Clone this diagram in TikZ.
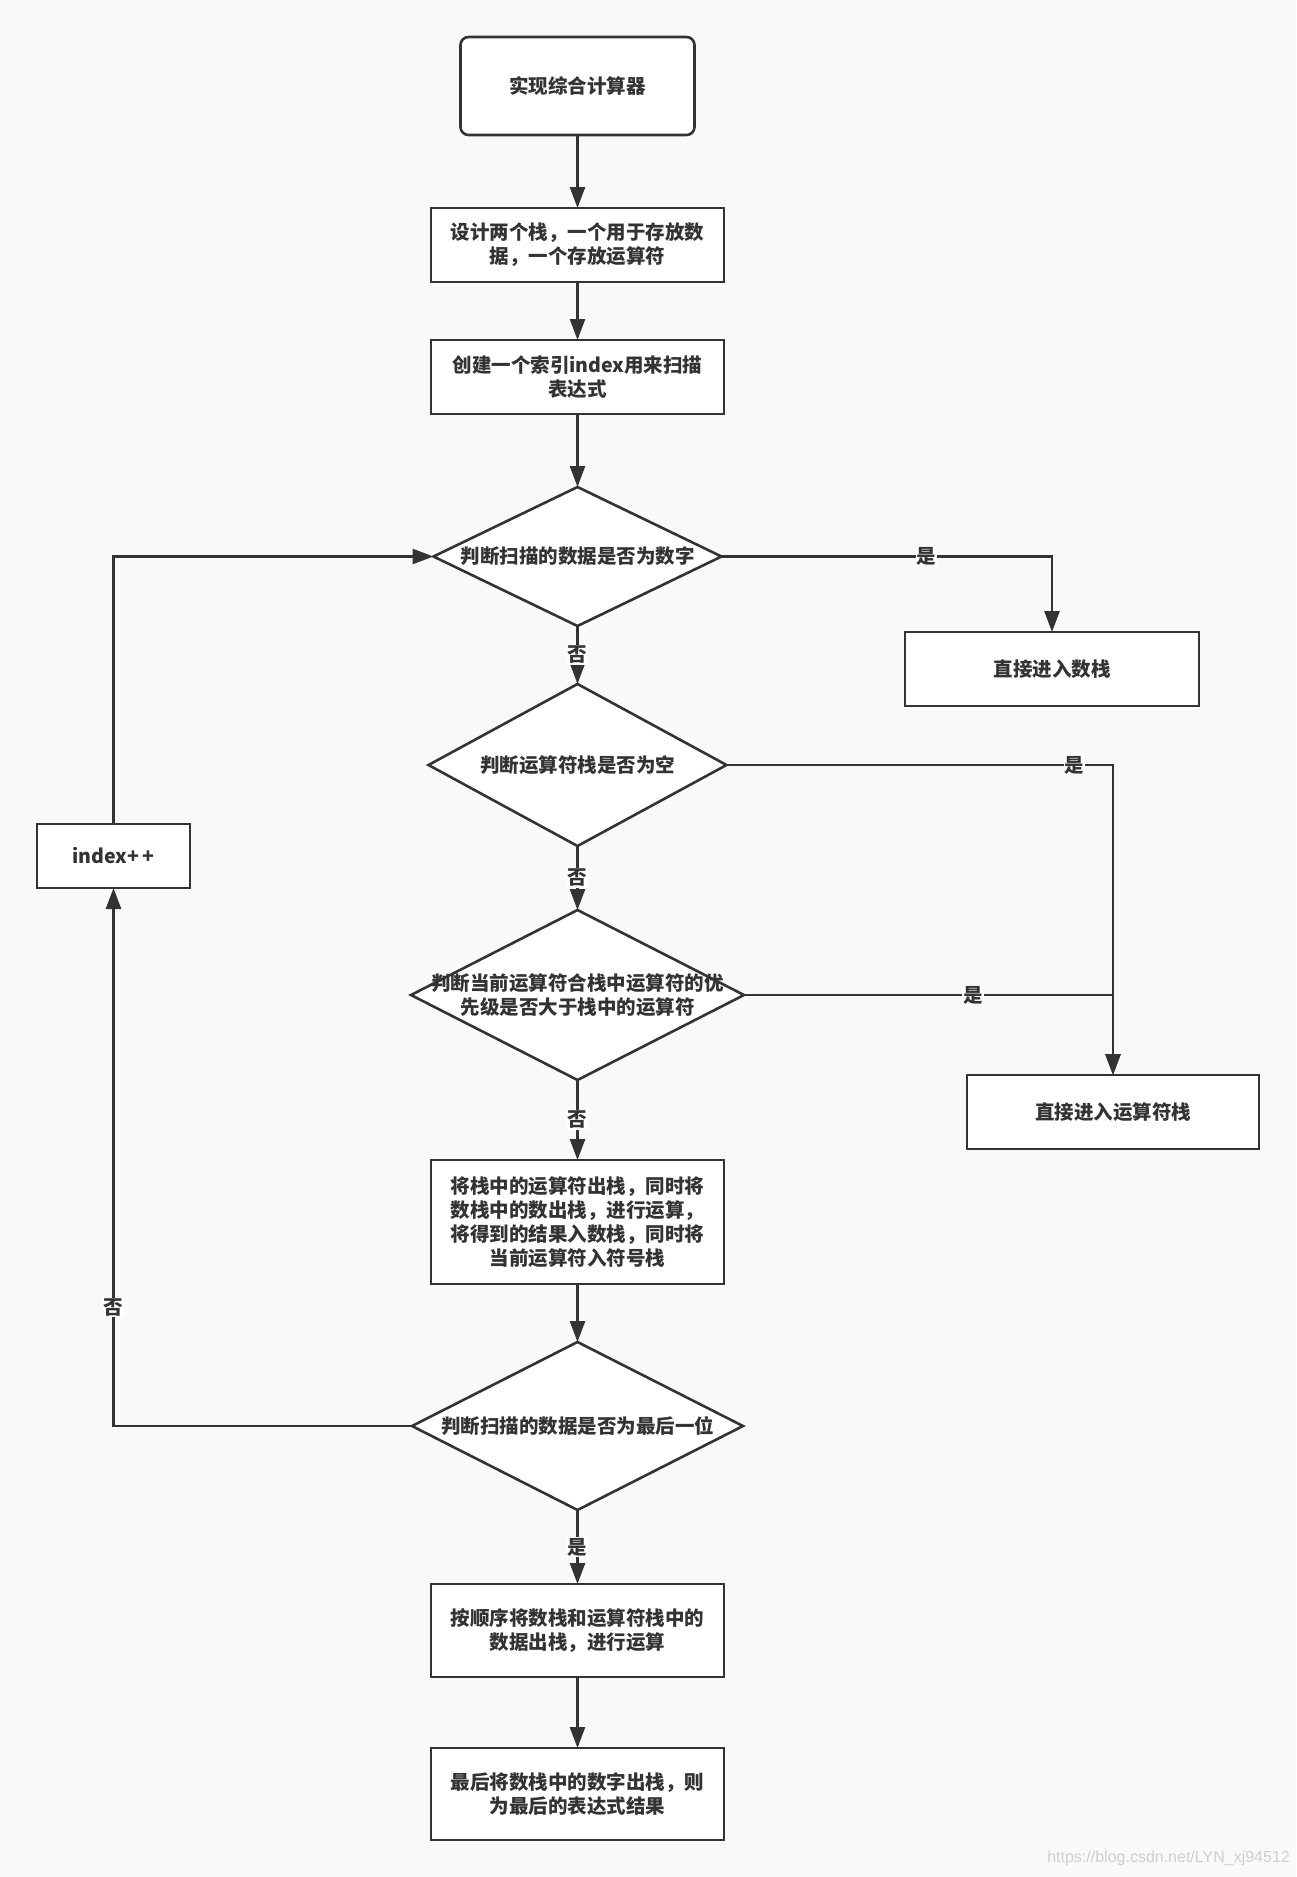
\documentclass[tikz,border=0pt]{standalone}
\usepackage{fontspec}
\usepackage{xcolor}
\usepackage{tikz}
\usetikzlibrary{shapes.geometric, arrows.meta, positioning}
\newfontfamily\cjk{Noto Sans CJK SC}
\newfontfamily\markfont{Liberation Sans}
\definecolor{ink}{HTML}{333333}
\definecolor{paper}{HTML}{F9F9F9}
\definecolor{faint}{HTML}{CFCFCF}
\tikzset{
  box/.style={rectangle, draw=ink, fill=white, text=ink, align=center, line width=2.6pt, outer sep=0pt, minimum width=293pt, minimum height=74pt, inner sep=3pt, font=\cjk\bfseries\fontsize{19.5}{24}\selectfont},
  startbox/.style={box, rounded corners=8pt, minimum width=234pt, minimum height=98pt},
  decision/.style={diamond, draw=ink, fill=white, text=ink, align=center, line width=2.6pt, outer sep=0pt, inner xsep=-60pt, inner ysep=0pt, aspect=2, font=\cjk\bfseries\fontsize{19.5}{24}\selectfont},
  arrow/.style={-{Triangle[length=21pt, width=15pt]}, line width=2.6pt, draw=ink},
  yesno/.style={fill=white, text=ink, inner sep=1pt, font=\cjk\bfseries\fontsize{19.5}{20}\selectfont},
  watermark/.style={text=faint, inner sep=0pt, font=\markfont\fontsize{16}{16}\selectfont},
}
\begin{document}
\begin{tikzpicture}[x=1pt, y=-1pt]
  \fill[paper] (0,0) rectangle (1296,1877);
  \useasboundingbox (0,0) rectangle (1296,1877);
  \node[startbox] (start) at (577.5,86) {实现综合计算器};
  \node[box, below=73pt of start] (stacks) {设计两个栈，一个用于存放数\\据，一个存放运算符};
  \node[box, below=58pt of stacks] (scan) {创建一个索引index用来扫描\\表达式};
  \node[decision, below=73pt of scan, minimum width=288pt, minimum height=139pt] (isnum) {判断扫描的数据是否为数字};
  \node[decision, below=58pt of isnum, minimum width=298pt, minimum height=162pt] (isempty) {判断运算符栈是否为空};
  \node[decision, below=64pt of isempty, minimum width=333pt, minimum height=170pt] (prio) {判断当前运算符合栈中运算符的优\\先级是否大于栈中的运算符};
  \node[box, below=80pt of prio, minimum height=124pt] (popcalc) {将栈中的运算符出栈，同时将\\数栈中的数出栈，进行运算，\\将得到的结果入数栈，同时将\\当前运算符入符号栈};
  \node[decision, below=58pt of popcalc, minimum width=331pt, minimum height=168pt] (islast) {判断扫描的数据是否为最后一位};
  \node[box, below=74pt of islast, minimum height=93pt] (finalcalc) {按顺序将数栈和运算符栈中的\\数据出栈，进行运算};
  \node[box, below=71pt of finalcalc, minimum height=92pt] (result) {最后将数栈中的数字出栈，则\\为最后的表达式结果};
  \node[box, minimum width=294pt] (numpush) at (1052,669) {直接进入数栈};
  \node[box, minimum width=292pt] (oppush) at (1113,1112) {直接进入运算符栈};
  \node[box, minimum width=153pt, minimum height=64pt] (incr) at (113.5,856) {index+\,+};
  \node[watermark, anchor=east] (mark) at (1290,1858) {https://blog.csdn.net/LYN\_xj94512};
  \draw[arrow] (start) -- (stacks);
  \draw[arrow] (stacks) -- (scan);
  \draw[arrow] (scan) -- (isnum);
  \draw[arrow] (isnum) -- node[yesno]{否} (isempty);
  \draw[arrow] (isempty) -- node[yesno]{否} (prio);
  \draw[arrow] (prio) -- node[yesno]{否} (popcalc);
  \draw[arrow] (popcalc) -- (islast);
  \draw[arrow] (islast) -- node[yesno]{是} (finalcalc);
  \draw[arrow] (finalcalc) -- (result);
  \draw[arrow] (isnum.east) -| node[yesno, pos=0.31]{是} (numpush.north);
  \draw[arrow] (isempty.east) -| node[yesno, pos=0.45]{是} (oppush.north);
  \draw[arrow] (prio.east) -| node[yesno, pos=0.31]{是} (oppush.north);
  \draw[arrow] (islast.west) -| node[yesno, pos=0.61]{否} (incr.south);
  \draw[arrow] (incr.north) |- (isnum.west);
\end{tikzpicture}
\end{document}
